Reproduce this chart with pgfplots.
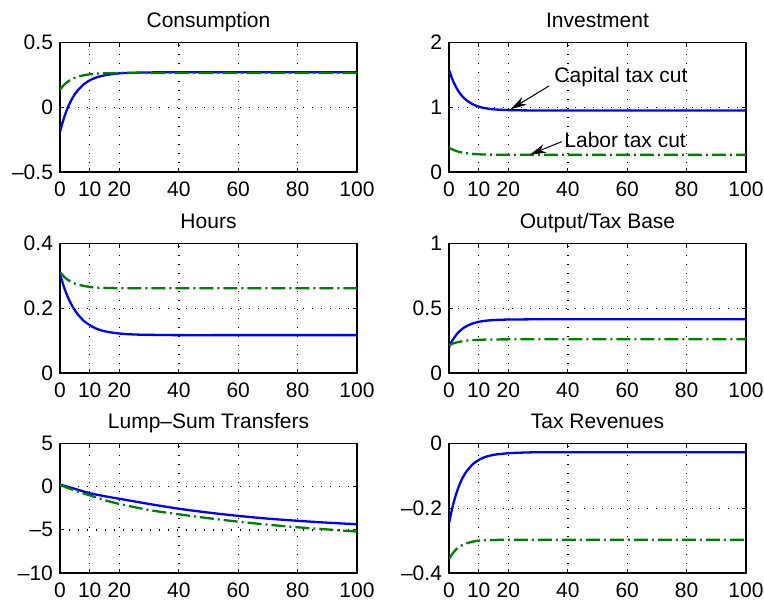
\documentclass[border=0pt]{standalone}
\usepackage{pgfplots}
\pgfplotsset{compat=1.18}
\usepackage{fontspec}
\setmainfont{Liberation Sans}
\usetikzlibrary{arrows.meta}
\definecolor{mblue}{RGB}{0,0,255}
\definecolor{mgreen}{RGB}{0,128,0}
\pgfplotsset{
  every axis title shift=0pt,
  panel/.style={
    scale only axis, width=148.5pt, height=64.75pt,
    anchor=south west,
    xmin=0, xmax=100,
    xtick={0,10,20,40,60,80,100},
    xticklabels={0,10,20,40,60,80,100},
    tick align=inside, major tick length=2pt,
    tick style={black, line width=0.5pt},
    axis line style={black, line width=0.6pt},
    grid=major,
    major grid style={black, line width=0.7pt, dash pattern=on 0.7pt off 3.8pt},
    tick label style={font=\fontsize{10.5}{12}\selectfont},
    xticklabel style={yshift=-1.2pt},
    title style={at={(0.5,1)}, anchor=base, yshift=7.5pt, font=\fontsize{10.5}{12}\selectfont},
    scaled y ticks=false,
  },
  blueline/.style={mblue, line width=1.15pt, smooth},
  greenline/.style={mgreen, line width=1.15pt, dash pattern=on 7pt off 2pt on 1pt off 2pt, smooth},
}
\begin{document}
\begin{tikzpicture}
\path[use as bounding box] (0,0) rectangle (382pt,-301pt);

% Consumption
\begin{axis}[panel, at={(30pt,-86pt)}, title={Consumption},
  ymin=-0.5, ymax=0.5, ytick={-0.5,0,0.5}, yticklabels={\textendash0.5,0,0.5}]
\addplot[blueline] coordinates {(0,-0.19) (1,-0.107) (2,-0.038) (3,0.017) (4,0.063) (5,0.101) (6,0.131) (8,0.177) (10,0.208) (12,0.228) (15,0.247) (20,0.262) (25,0.267) (30,0.269) (40,0.27) (60,0.27) (80,0.27) (100,0.27)};
\addplot[greenline] coordinates {(0,0.135) (1,0.164) (2,0.186) (3,0.204) (4,0.217) (5,0.228) (6,0.236) (8,0.247) (10,0.254) (12,0.259) (15,0.262) (20,0.264) (30,0.265) (40,0.265) (60,0.265) (80,0.265) (100,0.265)};
\end{axis}

% Investment
\begin{axis}[panel, at={(224.5pt,-86pt)}, title={Investment},
  ymin=0, ymax=2, ytick={0,1,2}, yticklabels={0,1,2}]
\addplot[blueline] coordinates {(0,1.58) (1,1.448) (2,1.344) (3,1.261) (4,1.196) (5,1.144) (6,1.104) (8,1.046) (10,1.010) (12,0.987) (15,0.968) (20,0.956) (25,0.952) (30,0.951) (40,0.95) (60,0.95) (80,0.95) (100,0.95)};
\addplot[greenline] coordinates {(0,0.375) (1,0.351) (2,0.332) (3,0.317) (4,0.305) (5,0.297) (6,0.290) (8,0.280) (10,0.274) (12,0.270) (15,0.268) (20,0.266) (30,0.265) (40,0.265) (60,0.265) (80,0.265) (100,0.265)};
\node[font=\fontsize{10.5}{12}\selectfont] at (axis cs:57.9,1.47) {Capital tax cut};
\draw[black, line width=0.5pt, -{Stealth[length=8pt,width=4.5pt,inset=2.5pt]}] (axis cs:33.7,1.33) -- (axis cs:20.8,0.97);
\node[font=\fontsize{10.5}{12}\selectfont] at (axis cs:59.3,0.50) {Labor tax cut};
\draw[black, line width=0.5pt, -{Stealth[length=8pt,width=4.5pt,inset=2.5pt]}] (axis cs:38.0,0.47) -- (axis cs:27.3,0.27);
\end{axis}

% Hours
\begin{axis}[panel, at={(30pt,-186.5pt)}, title={Hours},
  ymin=0, ymax=0.4, ytick={0,0.2,0.4}, yticklabels={0,0.2,0.4}]
\addplot[blueline] coordinates {(0,0.307) (1,0.275) (2,0.249) (3,0.227) (4,0.209) (5,0.194) (6,0.181) (8,0.161) (10,0.148) (12,0.138) (15,0.129) (20,0.122) (25,0.119) (30,0.118) (40,0.117) (60,0.117) (80,0.117) (100,0.117)};
\addplot[greenline] coordinates {(0,0.312) (1,0.301) (2,0.292) (3,0.286) (4,0.280) (5,0.276) (6,0.273) (8,0.269) (10,0.266) (12,0.264) (15,0.263) (20,0.262) (30,0.262) (40,0.262) (60,0.262) (80,0.262) (100,0.262)};
\end{axis}

% Output/Tax Base
\begin{axis}[panel, at={(224.5pt,-186.5pt)}, title={Output/Tax Base},
  ymin=0, ymax=1, ytick={0,0.5,1}, yticklabels={0,0.5,1}]
\addplot[blueline] coordinates {(0,0.200) (1,0.246) (2,0.281) (3,0.310) (4,0.332) (5,0.350) (6,0.363) (8,0.383) (10,0.395) (12,0.403) (15,0.409) (20,0.413) (25,0.414) (30,0.415) (40,0.415) (60,0.415) (80,0.415) (100,0.415)};
\addplot[greenline] coordinates {(0,0.215) (1,0.225) (2,0.233) (3,0.239) (4,0.243) (5,0.247) (6,0.250) (8,0.254) (10,0.256) (12,0.258) (15,0.259) (20,0.26) (30,0.26) (40,0.26) (60,0.26) (80,0.26) (100,0.26)};
\end{axis}

% Lump-Sum Transfers
\begin{axis}[panel, at={(30pt,-286.5pt)}, title={Lump\textendash Sum Transfers},
  ymin=-10, ymax=5, ytick={-10,-5,0,5}, yticklabels={\textendash10,\textendash5,0,5}]
\addplot[blueline] coordinates {(0,0.25) (5,-0.25) (10,-0.75) (15,-1.1) (20,-1.4) (30,-2.0) (40,-2.55) (50,-3.0) (60,-3.38) (70,-3.7) (80,-3.95) (90,-4.17) (100,-4.35)};
\addplot[greenline] coordinates {(0,0.2) (5,-0.45) (10,-1.0) (15,-1.55) (20,-2.0) (30,-2.7) (40,-3.2) (50,-3.65) (60,-4.05) (70,-4.4) (80,-4.7) (90,-4.95) (100,-5.2)};
\end{axis}

% Tax Revenues
\begin{axis}[panel, at={(224.5pt,-286.5pt)}, title={Tax Revenues},
  ymin=-0.4, ymax=0, ytick={-0.4,-0.2,0}, yticklabels={\textendash0.4,\textendash0.2,0}]
\addplot[blueline] coordinates {(0,-0.247) (1,-0.203) (2,-0.168) (3,-0.140) (4,-0.117) (5,-0.099) (6,-0.085) (8,-0.064) (10,-0.051) (12,-0.042) (15,-0.035) (20,-0.030) (25,-0.028) (30,-0.027) (40,-0.027) (60,-0.027) (80,-0.027) (100,-0.027)};
\addplot[greenline] coordinates {(0,-0.357) (1,-0.342) (2,-0.331) (3,-0.322) (4,-0.316) (5,-0.311) (6,-0.308) (8,-0.303) (10,-0.300) (12,-0.299) (15,-0.298) (20,-0.297) (30,-0.297) (40,-0.297) (60,-0.297) (80,-0.297) (100,-0.297)};
\end{axis}
\end{tikzpicture}
\end{document}
